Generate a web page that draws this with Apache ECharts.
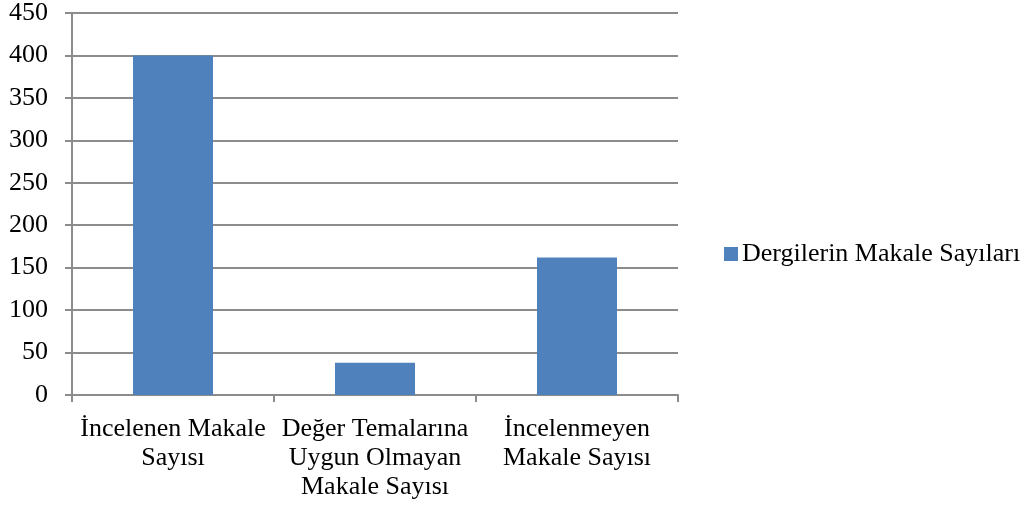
<!DOCTYPE html>
<html style="height: 100%">
  <head>
    <meta charset="UTF-8" />
    <title>Dergilerin Makale Sayıları</title>
    <script src="https://cdn.jsdelivr.net/npm/echarts@6/dist/echarts.min.js"></script>
  </head>
  <body style="height: 100%; margin: 0; background: #fff">
    <div id="main" style="width: 1029px; height: 508px"></div>
    <script>
      // veriler
      var categories = [
        'İncelenen Makale\nSayısı',
        'Değer Temalarına\nUygun Olmayan\nMakale Sayısı',
        'İncelenmeyen\nMakale Sayısı',
      ];
      var seriesName = 'Dergilerin Makale Sayıları';
      var values = [400, 38, 162];

      var font = '"Liberation Serif", "Times New Roman", serif';
      var chart = echarts.init(document.getElementById('main'));

      var option = {
        animation: false,
        textStyle: { fontFamily: font },
        grid: { left: 72, right: 351, top: 11, bottom: 113 },
        legend: {
          data: [seriesName],
          orient: 'vertical',
          left: 719,
          top: 236,
          itemWidth: 14,
          itemHeight: 14,
          itemGap: 5,
          icon: 'rect',
          textStyle: { fontFamily: font, fontSize: 26, color: '#000', padding: [0, 0, 0, -1] },
        },
        xAxis: {
          type: 'category',
          data: categories,
          axisLine: { lineStyle: { color: '#8c8c8c', width: 2 } },
          axisTick: { show: true, length: 7, lineStyle: { color: '#8c8c8c', width: 2 } },
          axisLabel: {
            interval: 0,
            margin: 20,
            fontFamily: font,
            fontSize: 26,
            color: '#000',
            lineHeight: 29,
          },
        },
        yAxis: {
          type: 'value',
          min: 0,
          max: 450,
          interval: 50,
          axisLine: { show: true, lineStyle: { color: '#8c8c8c', width: 2 } },
          axisTick: { show: true, length: 7, lineStyle: { color: '#8c8c8c', width: 2 } },
          splitLine: { lineStyle: { color: '#8c8c8c', width: 2 } },
          axisLabel: {
            margin: 24,
            fontFamily: font,
            fontSize: 26,
            color: '#000',
          },
        },
        series: [
          {
            name: seriesName,
            type: 'bar',
            data: values,
            barWidth: 80,
            itemStyle: { color: '#4f81bd' },
          },
        ],
      };

      chart.setOption(option);
    </script>
  </body>
</html>
